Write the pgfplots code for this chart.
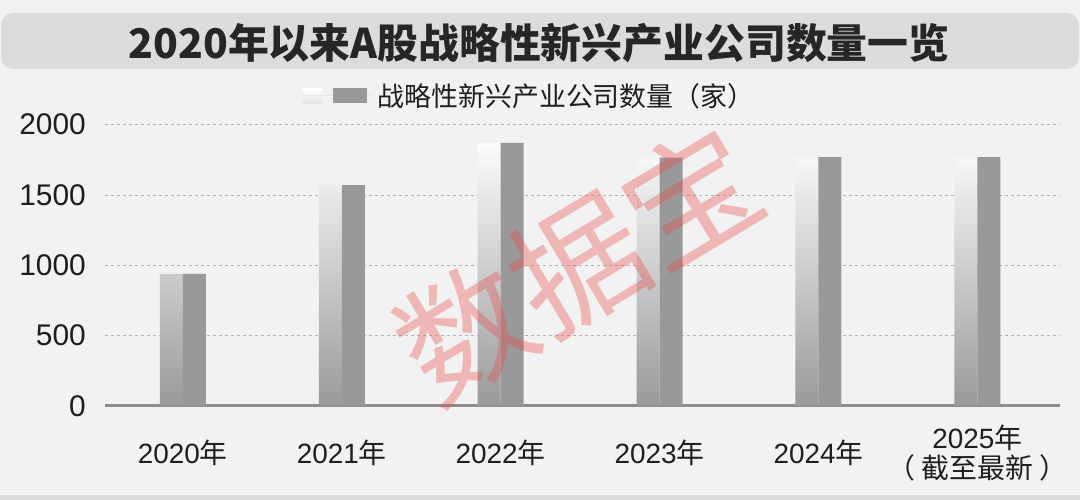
\documentclass[border=0pt]{standalone}
\usepackage{fontspec}
\setmainfont{Liberation Sans}
\newfontfamily\cjk{Noto Sans CJK SC}
\usepackage{pgfplots}
\pgfplotsset{compat=1.18}

\definecolor{bg}{HTML}{F2F2F2}
\definecolor{banner}{HTML}{DCDCDC}
\definecolor{barcol}{HTML}{999999}
\definecolor{gradtop}{HTML}{FCFCFC}
\definecolor{gradbot}{HTML}{9A9A9A}
\definecolor{axiscol}{HTML}{8C8C8C}
\definecolor{gridcol}{HTML}{B4B4B4}
\definecolor{labelcol}{HTML}{1E1E1E}
\definecolor{wmred}{HTML}{E8504E}

\begin{document}
\begin{tikzpicture}[x=1bp,y=1bp]
% background, title banner, bottom band
\fill[bg] (0,0) rectangle (1080,500);
\fill[banner] (0,0) rectangle (1080,5);
\fill[banner, rounded corners=12bp] (1,431) rectangle (1079,487);
\node[font=\cjk\bfseries\fontsize{41}{41}\selectfont, text=black!85] at (539,457)
  {2020年以来A股战略性新兴产业公司数量一览};

\begin{axis}[
  at={(105bp,94bp)}, anchor=south west,
  scale only axis, width=955bp, height=281.3bp,
  ymin=0, ymax=2000, xmin=-0.49, xmax=5.52,
  ybar, bar width=23bp,
  axis lines*=left,
  y axis line style={draw=none},
  x axis line style={draw=axiscol, line width=3bp},
  tick style={draw=none},
  ymajorgrids,
  grid style={draw=gridcol, line width=0.8bp, dash pattern=on 3bp off 3bp},
  ytick={0,500,1000,1500,2000},
  xtick={0,1,2,3,4,5},
  xticklabels={{2020{\cjk 年}},{2021{\cjk 年}},{2022{\cjk 年}},{2023{\cjk 年}},{2024{\cjk 年}},{2025{\cjk 年}\\{\cjk （ 截至最新 ）}}},
  /pgf/number format/assume math mode=true,
  /pgf/number format/1000 sep={},
  yticklabel style={font=\fontsize{30}{30}\selectfont, text=labelcol, inner sep=0pt, xshift=-19bp},
  xticklabel style={font=\fontsize{28}{30}\selectfont, text=labelcol, align=center, anchor=center, yshift=-43bp},
  legend style={draw=none, fill=none, at={(0.4466,1.102)}, anchor=center,
    font=\cjk\fontsize{27}{27}\selectfont, text=labelcol,
    nodes={inner sep=6bp}},
]
\addplot[forget plot, draw=none, bar shift=-11.5bp, top color=gradtop, bottom color=gradbot]
  coordinates {(0,939) (1,1570) (2,1870) (3,1766) (4,1769) (5,1769)};
\addplot[draw=none, fill=barcol, bar shift=11.5bp,
  legend image code/.code={
    \fill[top color=white, bottom color=black!10] (0bp,-7.5bp) rectangle (20bp,7.5bp);
    \fill[barcol] (30bp,-7.5bp) rectangle (64bp,7.5bp);
    \path (0bp,0bp) -- (69bp,0bp);
  }]
  coordinates {(0,939) (1,1570) (2,1870) (3,1766) (4,1769) (5,1769)};
\addlegendentry{战略性新兴产业公司数量（家）}
\end{axis}

% watermark
\node[rotate=31, font=\cjk\fontsize{132}{132}\selectfont, text=wmred, opacity=0.36] at (578,236) {数据宝};
\end{tikzpicture}
\end{document}
